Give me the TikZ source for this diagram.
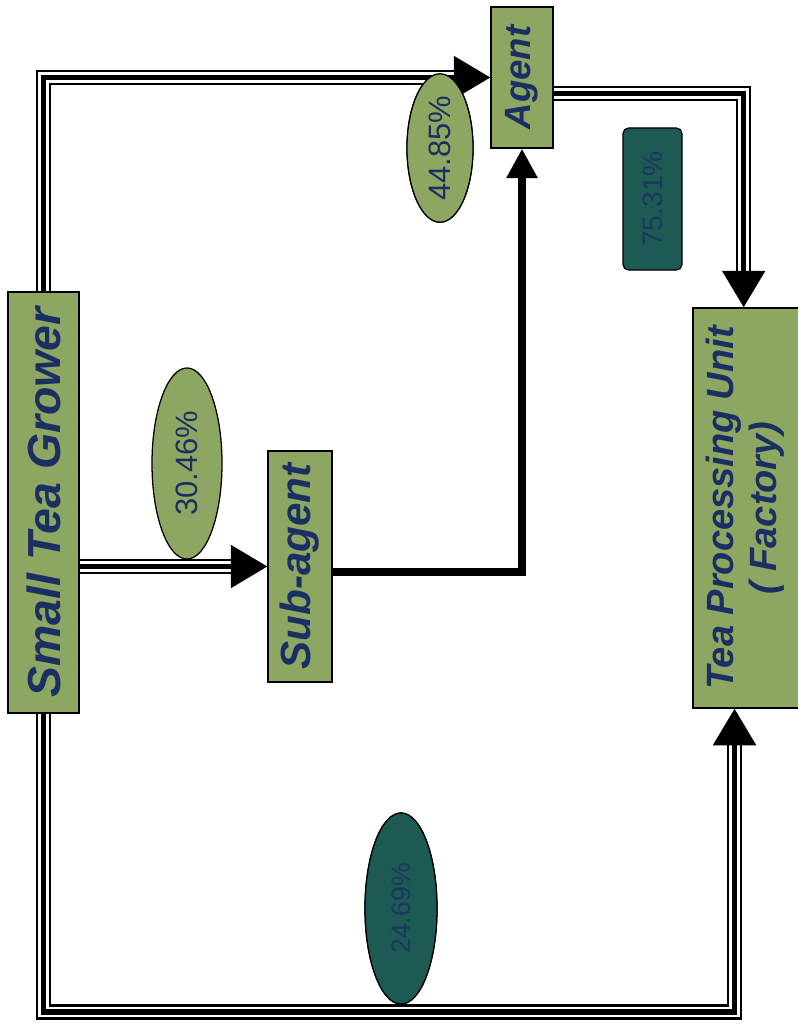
\documentclass[tikz,border=0pt]{standalone}
\usepackage{fontspec}
\setmainfont{Liberation Sans}
\usetikzlibrary{shapes.geometric,arrows.meta}

\definecolor{leaf}{RGB}{141,167,99}
\definecolor{ink}{RGB}{27,48,98}
\definecolor{darkteal}{RGB}{29,90,84}
\tikzset{
  box/.style={draw=black, line width=0.9pt, fill=leaf, inner sep=0pt, text=ink},
  share/.style={draw=black, line width=0.9pt, fill=leaf, ellipse, inner sep=0pt, text=ink},
  darkshare/.style={share, fill=darkteal, text=ink!80!darkteal},
  pipe/.style={line width=3.6pt, -{Triangle[length=26pt,width=30pt]},
    preaction={draw, line width=10.8pt, shorten >=18pt, -},
    preaction={draw=white, line width=7.6pt, shorten >=18pt, -}},
  rod/.style={line width=6pt, -{Triangle[length=21pt,width=21pt]}},
}

\begin{document}
\begin{tikzpicture}[x=0.025cm, y=-0.025cm]
    \useasboundingbox (0,0) rectangle (797,1025);

    % Boxes
    \node[box, minimum width=1.775cm, minimum height=10.525cm] (grower) at (43.5,502.5)
        {\rotatebox{90}{\fontsize{33}{36}\selectfont\bfseries\itshape Small Tea Grower}};
    \node[box, minimum width=1.55cm, minimum height=3.525cm] (agent) at (522,77.5)
        {\rotatebox{90}{\fontsize{26}{30}\selectfont\bfseries\itshape Agent}};
    \node[box, minimum width=1.6cm, minimum height=5.775cm] (subagent) at (300,566.5)
        {\rotatebox{90}{\fontsize{30}{34}\selectfont\bfseries\itshape Sub-agent}};
    \node[box, minimum width=2.675cm, minimum height=10cm] (factory) at (746.5,508)
        {\rotatebox{90}{\fontsize{27}{30}\selectfont\bfseries\itshape
         \begin{tabular}{@{}c@{}}Tea Processing Unit\\( Factory)\end{tabular}}};

    % Shares
    \node[share, minimum width=1.75cm, minimum height=4.775cm] (s3046) at (187,463.5)
        {\rotatebox{90}{\fontsize{22}{24}\selectfont 30.46\%}};
    \node[share, minimum width=1.65cm, minimum height=3.6cm] (s4485) at (440,148)
        {\rotatebox{90}{\fontsize{22}{24}\selectfont 44.85\%}};
    \node[darkshare, minimum width=1.8cm, minimum height=4.775cm] (s2469) at (401,908.5)
        {\rotatebox{90}{\fontsize{19}{22}\selectfont 24.69\%}};
    \node[darkshare, rectangle, rounded corners=4pt, minimum width=1.475cm, minimum height=3.55cm] (s7531) at (652.5,199)
        {\rotatebox{90}{\fontsize{20}{22}\selectfont 75.31\%}};

    % Flows
    \coordinate (bottom) at (400,1012);
    \draw[pipe] (grower.north) |- (agent.west);
    \draw[pipe] (grower.east |- subagent.west) -- (subagent.west);
    \draw[rod] ([yshift=-4pt]subagent.east) -| (agent.south);
    \draw[pipe] ([yshift=-0.4cm]agent.east) -| ([xshift=-2pt]factory.north);
    \draw[pipe] (grower.south) |- (bottom) -| ([xshift=-8.5pt]factory.south);

    % Redraw the shares on top of the flows
    \node[share, minimum width=1.65cm, minimum height=3.6cm] at (s4485)
        {\rotatebox{90}{\fontsize{22}{24}\selectfont 44.85\%}};
    \node[darkshare, minimum width=1.8cm, minimum height=4.775cm] at (s2469)
        {\rotatebox{90}{\fontsize{19}{22}\selectfont 24.69\%}};
\end{tikzpicture}
\end{document}
